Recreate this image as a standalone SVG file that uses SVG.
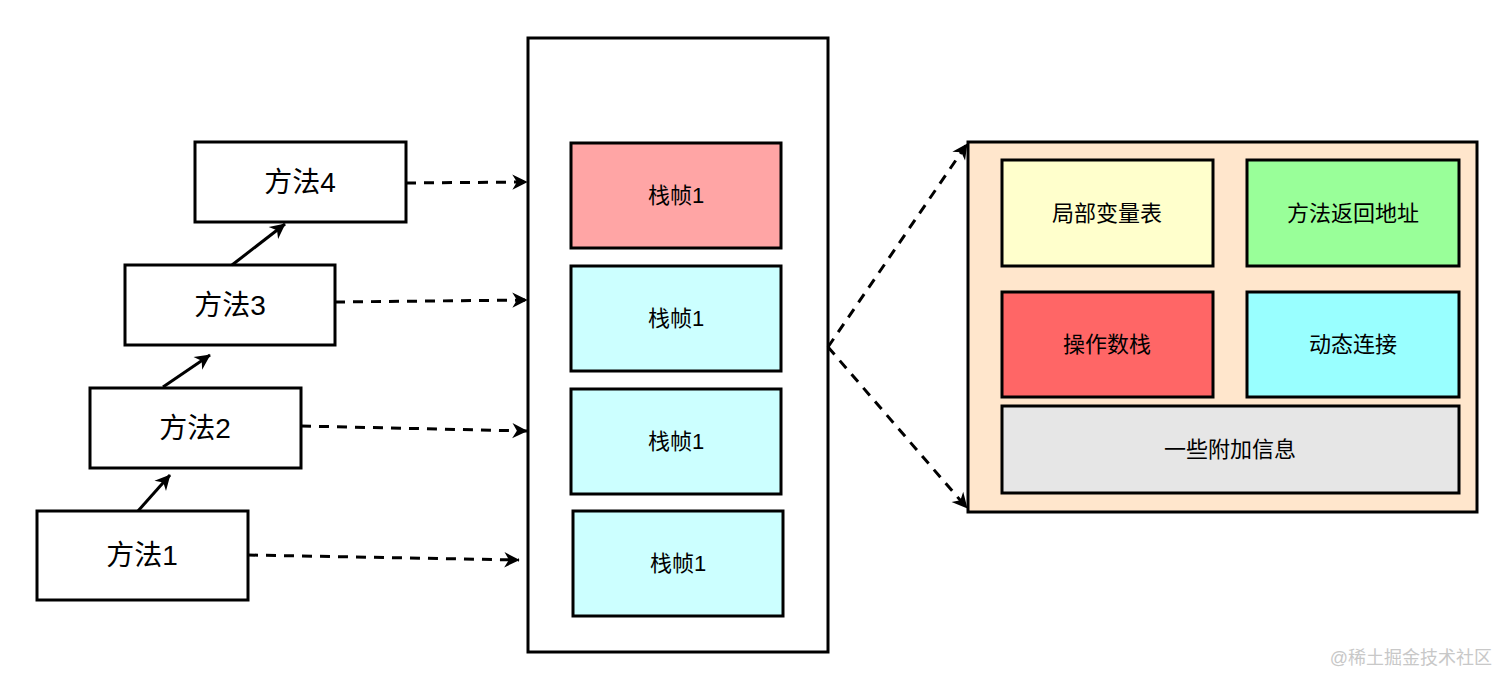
<svg xmlns="http://www.w3.org/2000/svg" width="1512" height="688" viewBox="0 0 1512 688">
<style>
.b{stroke:#000;stroke-width:3}
.t{font-family:"Liberation Sans","Noto Sans CJK SC",sans-serif;text-anchor:middle;dominant-baseline:central;fill:#000}
.m{font-size:28px}.s{font-size:22px}
.c{fill:none;stroke:#000;stroke-width:3}
.d{stroke-dasharray:10 8}
</style>
<defs>
<marker id="a" viewBox="0 0 10 10" refX="9" refY="5" markerWidth="7" markerHeight="7" markerUnits="userSpaceOnUse" orient="auto" style="overflow:visible">
<path d="M0,0 L10,5 L0,10 L3,5 Z" fill="#000" transform="scale(2.2)" transform-origin="10 5"/>
</marker>
</defs>
<rect width="1512" height="688" fill="#fff"/>
<g id="m4"><rect class="b" x="195" y="142" width="211" height="80" fill="#fff"/><text class="t m" x="300" y="182">方法4</text></g>
<g id="m3"><rect class="b" x="125" y="265" width="210" height="80" fill="#fff"/><text class="t m" x="230" y="305">方法3</text></g>
<g id="m2"><rect class="b" x="90" y="388" width="211" height="80" fill="#fff"/><text class="t m" x="195" y="428">方法2</text></g>
<g id="m1"><rect class="b" x="37" y="511" width="211" height="89" fill="#fff"/><text class="t m" x="142" y="555">方法1</text></g>
<g id="stack"><rect class="b" x="528" y="38" width="300" height="614" fill="#fff"/></g>
<g id="f1"><rect class="b" x="571" y="143" width="210" height="105" fill="#FFA5A5"/><text class="t s" x="676" y="195">栈帧1</text></g>
<g id="f2"><rect class="b" x="571" y="266" width="210" height="105" fill="#CCFFFF"/><text class="t s" x="676" y="318">栈帧1</text></g>
<g id="f3"><rect class="b" x="571" y="389" width="210" height="105" fill="#CCFFFF"/><text class="t s" x="676" y="441">栈帧1</text></g>
<g id="f4"><rect class="b" x="573" y="511" width="210" height="105" fill="#CCFFFF"/><text class="t s" x="678" y="563">栈帧1</text></g>
<g id="detail"><rect class="b" x="968" y="142" width="509" height="370" fill="#FFE6CC"/></g>
<g id="lv"><rect class="b" x="1002" y="160" width="211" height="106" fill="#FFFFCC"/><text class="t s" x="1107" y="213">局部变量表</text></g>
<g id="ra"><rect class="b" x="1247" y="160" width="212" height="106" fill="#99FF99"/><text class="t s" x="1353" y="213">方法返回地址</text></g>
<g id="os"><rect class="b" x="1002" y="292" width="211" height="105" fill="#FF6666"/><text class="t s" x="1107" y="344">操作数栈</text></g>
<g id="dl"><rect class="b" x="1247" y="292" width="212" height="105" fill="#99FFFF"/><text class="t s" x="1353" y="344">动态连接</text></g>
<g id="ex"><rect class="b" x="1002" y="406" width="457" height="87" fill="#E6E6E6"/><text class="t s" x="1230" y="449">一些附加信息</text></g>
<g id="connectors">
<path class="c" d="M138,511 L170,475" marker-end="url(#a)"/>
<path class="c" d="M163,387 L210,355" marker-end="url(#a)"/>
<path class="c" d="M232,265 L285,224" marker-end="url(#a)"/>
<path class="c d" d="M406,183 L527,182" marker-end="url(#a)"/>
<path class="c d" d="M335,302 L527,300" marker-end="url(#a)"/>
<path class="c d" d="M301,426 L527,431" marker-end="url(#a)"/>
<path class="c d" d="M248,555 L519,560" marker-end="url(#a)"/>
<path class="c d" d="M828,347 L967,144" marker-end="url(#a)"/>
<path class="c d" d="M828,347 L967,508" marker-end="url(#a)"/>
</g>
<text x="1492" y="658" font-family="'Liberation Sans','Noto Sans CJK SC',sans-serif" font-size="18" fill="#c8c8c8" text-anchor="end" dominant-baseline="central">@稀土掘金技术社区</text>
</svg>
